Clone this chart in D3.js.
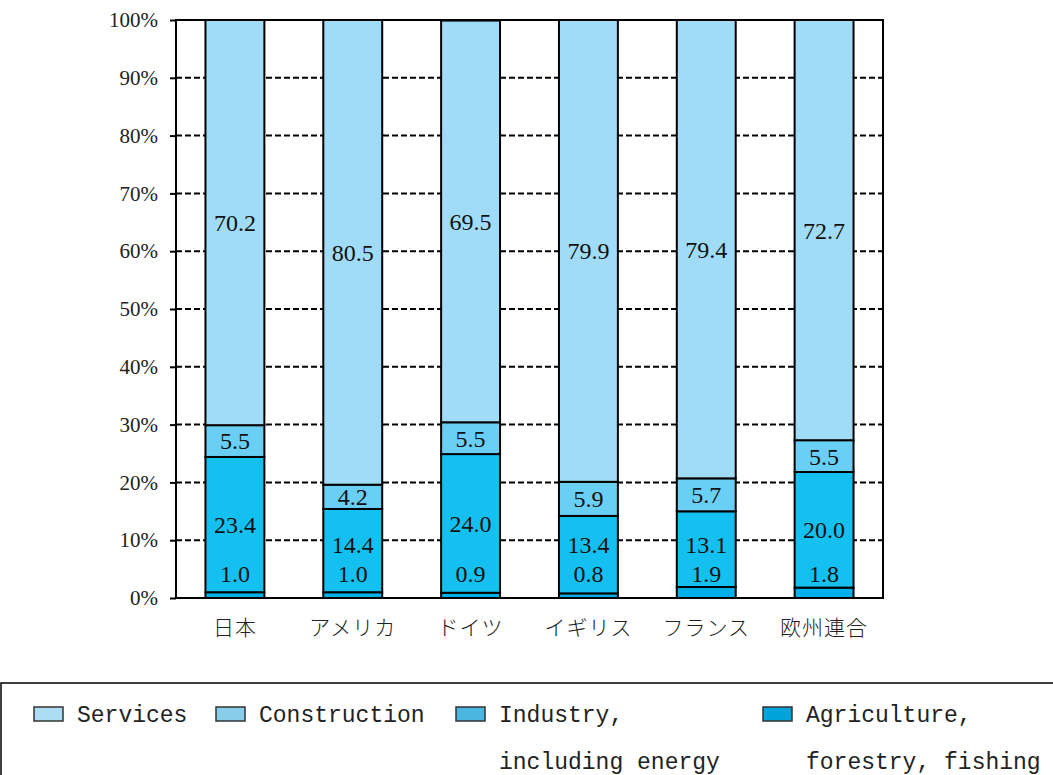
<!DOCTYPE html>
<html>
<head>
<meta charset="utf-8">
<script src="https://cdn.jsdelivr.net/npm/d3@7"></script>
<style>
  html, body { margin: 0; padding: 0; background: #fff; }
  svg { display: block; }
</style>
</head>
<body>
<svg id="chart" width="1053" height="775"></svg>
<script>
// Employment share by sector (%)
const countries = ["日本", "アメリカ", "ドイツ", "イギリス", "フランス", "欧州連合"];
const agriculture = [1.0, 1.0, 0.9, 0.8, 1.9, 1.8];
const industry = [23.4, 14.4, 24.0, 13.4, 13.1, 20.0];
const construction = [5.5, 4.2, 5.5, 5.9, 5.7, 5.5];
const services = [70.2, 80.5, 69.5, 79.9, 79.4, 72.7];
const yTicks = [0, 10, 20, 30, 40, 50, 60, 70, 80, 90, 100];

const seriesKeys = ["agriculture", "industry", "construction", "services"];
const barColors = {
  agriculture: "#00B0EA",
  industry: "#14C0F0",
  construction: "#6ACFF5",
  services: "#A0DCF7"
};
const legendItems = [
  { key: "services", lines: ["Services"], color: "#ADDDF2", x: 34 },
  { key: "construction", lines: ["Construction"], color: "#88CDE9", x: 216 },
  { key: "industry", lines: ["Industry,", "including energy"], color: "#4BB7E0", x: 456 },
  { key: "agriculture", lines: ["Agriculture,", "forestry, fishing"], color: "#00A3DA", x: 763 }
];

const rows = countries.map((c, i) => ({
  country: c,
  agriculture: agriculture[i],
  industry: industry[i],
  construction: construction[i],
  services: services[i]
}));

const svg = d3.select("#chart");
const plot = { left: 176, right: 883, top: 20, bottom: 598 };

const x = d3.scaleBand()
  .domain(countries)
  .range([plot.left, plot.right])
  .paddingInner(0.5)
  .paddingOuter(0.25);

const y = d3.scaleLinear()
  .domain([0, 100])
  .range([plot.bottom, plot.top])
  .clamp(true);

const serif = "'Liberation Serif', 'DejaVu Serif', serif";

// dashed gridlines
svg.append("g")
  .selectAll("line")
  .data(yTicks.filter(t => t > 0 && t < 100))
  .join("line")
  .attr("x1", plot.left).attr("x2", plot.right)
  .attr("y1", d => y(d)).attr("y2", d => y(d))
  .attr("stroke", "#000")
  .attr("stroke-width", 2)
  .attr("stroke-dasharray", "6,3");

// stacked bars
const stack = d3.stack().keys(seriesKeys)(rows);

const layers = svg.append("g")
  .selectAll("g")
  .data(stack)
  .join("g")
  .attr("fill", d => barColors[d.key]);

layers.selectAll("rect")
  .data(d => d)
  .join("rect")
  .attr("x", d => x(d.data.country))
  .attr("width", x.bandwidth())
  .attr("y", d => y(d[1]))
  .attr("height", d => y(d[0]) - y(d[1]))
  .attr("stroke", "#000")
  .attr("stroke-width", 2);

// value labels: the thin agriculture slice gets its label just above it,
// and the industry label is kept clear of that one
const labels = svg.append("g")
  .attr("font-family", serif)
  .attr("font-size", 24)
  .attr("fill", "#111")
  .attr("text-anchor", "middle");

const agriLabelY = y(0) - 24;

stack.forEach(layer => {
  layer.forEach(d => {
    const v = d.data[layer.key];
    const mid = (y(d[0]) + y(Math.min(d[1], 100))) / 2;
    let cy = mid;
    if (layer.key === "agriculture") cy = agriLabelY;
    else if (layer.key === "industry") cy = Math.min(mid, agriLabelY - 29);
    labels.append("text")
      .attr("x", x(d.data.country) + x.bandwidth() / 2)
      .attr("y", cy)
      .attr("dy", "0.35em")
      .text(v.toFixed(1));
  });
});

// frame
svg.append("rect")
  .attr("x", plot.left).attr("y", plot.top)
  .attr("width", plot.right - plot.left)
  .attr("height", plot.bottom - plot.top)
  .attr("fill", "none")
  .attr("stroke", "#000")
  .attr("stroke-width", 2);

// y axis
const yAxis = svg.append("g")
  .attr("transform", `translate(${plot.left},0)`)
  .call(d3.axisLeft(y).tickValues(yTicks).tickSize(6).tickPadding(12).tickFormat(d => d + "%"));
yAxis.select(".domain").remove();
yAxis.selectAll(".tick line").attr("stroke", "#000").attr("stroke-width", 2);
yAxis.selectAll(".tick text")
  .attr("font-family", serif)
  .attr("font-size", 21)
  .attr("fill", "#222");

// x axis
const xAxis = svg.append("g")
  .attr("transform", `translate(0,${plot.bottom})`)
  .call(d3.axisBottom(x).tickSize(0).tickPadding(22));
xAxis.select(".domain").remove();
xAxis.selectAll(".tick text")
  .attr("font-family", "'Noto Sans CJK JP', sans-serif")
  .attr("font-size", 21)
  .attr("font-weight", 300)
  .attr("letter-spacing", "1px")
  .attr("fill", "#222");

// legend
svg.append("rect")
  .attr("x", 1).attr("y", 683)
  .attr("width", 1100).attr("height", 200)
  .attr("fill", "none")
  .attr("stroke", "#000")
  .attr("stroke-width", 1.5);

const legend = svg.append("g");
legendItems.forEach(item => {
  legend.append("rect")
    .attr("x", item.x).attr("y", 707)
    .attr("width", 29).attr("height", 14)
    .attr("fill", item.color)
    .attr("stroke", "#333")
    .attr("stroke-width", 1.5);
  item.lines.forEach((line, j) => {
    legend.append("text")
      .attr("x", item.x + 43)
      .attr("y", 714 + j * 47)
      .attr("dy", "0.35em")
      .attr("font-family", "'Liberation Mono', 'DejaVu Sans Mono', monospace")
      .attr("font-size", 23)
      .attr("fill", "#222")
      .attr("xml:space", "preserve")
      .text(line);
  });
});
</script>
</body>
</html>
